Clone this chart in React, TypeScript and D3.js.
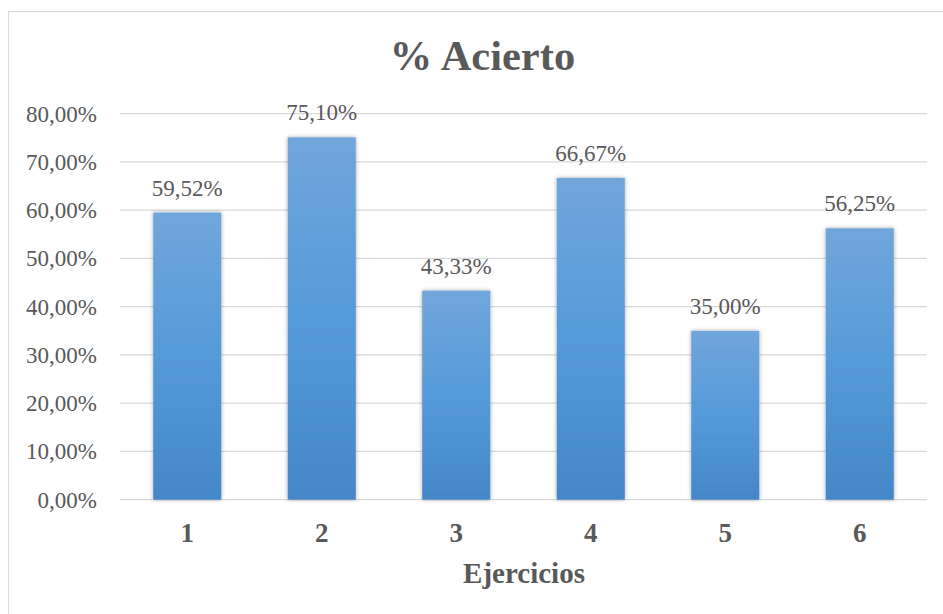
import React from 'react';
import * as d3 from 'd3';

const categories = ['1', '2', '3', '4', '5', '6'];
const aciertos = [0.5952, 0.751, 0.4333, 0.6667, 0.35, 0.5625];
const yTicks = [0, 0.1, 0.2, 0.3, 0.4, 0.5, 0.6, 0.7, 0.8];

const W = 943;
const H = 614;
const FONT = "'Liberation Serif', 'Times New Roman', Times, serif";
const TEXT = '#595959';

const fmt = (v: number) => (v * 100).toFixed(2).replace('.', ',') + '%';

const App: React.FC = () => {
  const x = d3.scaleBand<string>()
    .domain(categories)
    .range([120, 927])
    .paddingInner(0.494)
    .paddingOuter(0.247);

  const y = d3.scaleLinear()
    .domain([0, 0.8])
    .range([499.7, 113.7]);

  const txt = (size: number, bold = false): React.CSSProperties => ({
    fontFamily: FONT,
    fontSize: size,
    fontWeight: bold ? 'bold' : 'normal',
    fill: TEXT,
  });

  return (
    <div style={{ position: 'absolute', left: 0, top: 0 }}>
      <svg width={W} height={H} style={{ display: 'block', background: '#fff' }}>
        <defs>
          <linearGradient id="barGrad" x1="0" y1="0" x2="0" y2="1">
            <stop offset="0%" stopColor="#71A6DB" />
            <stop offset="50%" stopColor="#559AD9" />
            <stop offset="100%" stopColor="#4487C8" />
          </linearGradient>
          <filter id="shadow" x="-20%" y="-5%" width="140%" height="110%">
            <feGaussianBlur in="SourceAlpha" stdDeviation="2" />
            <feComponentTransfer>
              <feFuncA type="linear" slope="0.35" />
            </feComponentTransfer>
            <feMerge>
              <feMergeNode />
              <feMergeNode in="SourceGraphic" />
            </feMerge>
          </filter>
        </defs>

        {/* chart area border */}
        <rect x={8.5} y={11.5} width={960} height={640} fill="none" stroke="#D9D9D9" strokeWidth={1} />

        <text x={482.5} y={70} textAnchor="middle" style={txt(42.5, true)}>% Acierto</text>

        {/* gridlines + y labels */}
        {yTicks.map(t => (
          <g key={t}>
            <line x1={120} x2={927} y1={y(t)} y2={y(t)} stroke="#D9D9D9" strokeWidth={1.3} />
            <text x={97} y={y(t) + 8} textAnchor="end" style={txt(23)}>
              {fmt(t)}
            </text>
          </g>
        ))}

        {/* bars */}
        {aciertos.map((v, i) => (
          <rect key={i} x={x(categories[i])} y={y(v)} width={x.bandwidth()}
            height={y(0) - y(v)} fill="url(#barGrad)" filter="url(#shadow)" />
        ))}

        {/* data labels */}
        {aciertos.map((v, i) => (
          <text key={i} x={(x(categories[i]) || 0) + x.bandwidth() / 2} y={y(v) - 17}
            textAnchor="middle" style={txt(23)}>
            {fmt(v)}
          </text>
        ))}

        {/* category labels */}
        {categories.map(c => (
          <text key={c} x={(x(c) || 0) + x.bandwidth() / 2} y={542} textAnchor="middle"
            style={txt(27, true)}>{c}</text>
        ))}

        <text x={524} y={583} textAnchor="middle" style={txt(29, true)}>Ejercicios</text>
      </svg>
    </div>
  );
};

export default App;
